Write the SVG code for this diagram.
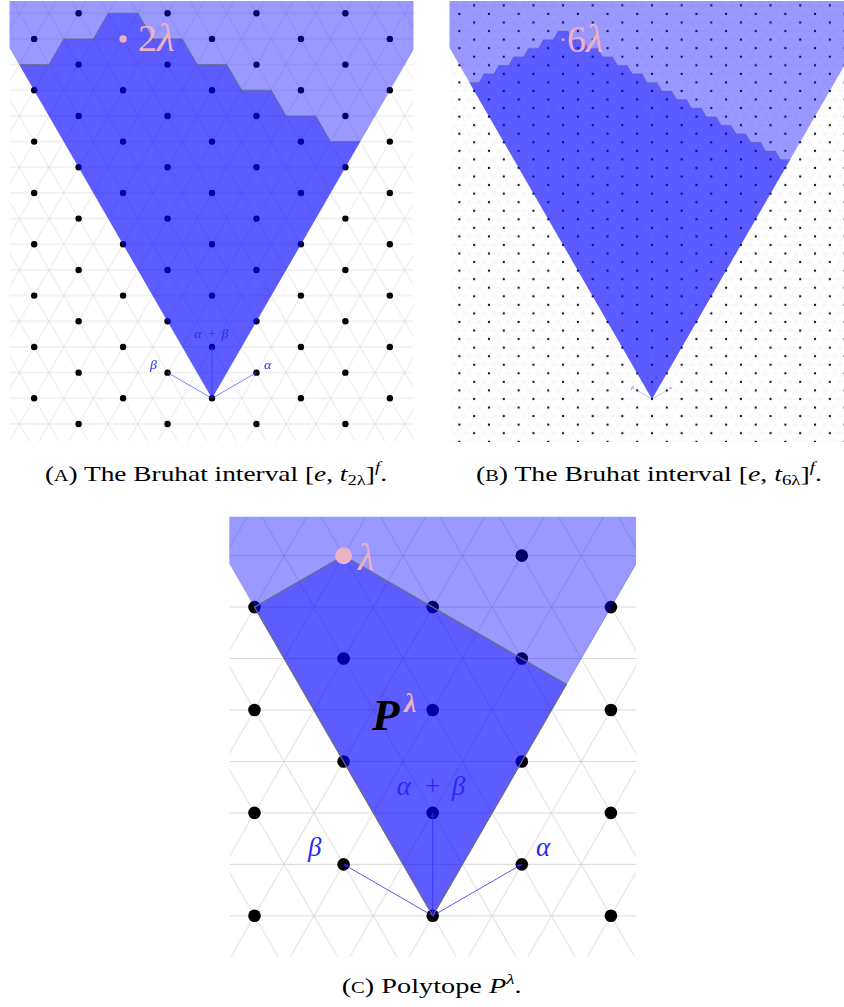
<svg xmlns="http://www.w3.org/2000/svg" width="844" height="1007" viewBox="0 0 844 1007">
<style>
text{font-family:"Liberation Serif","DejaVu Serif",serif;}
.it{font-style:italic;}
.cap{font-size:22px;fill:#000;}
.pink{fill:#ebb1c4;}
.lam{font-size:38px;fill:#ebb1c4;}
.vec{fill:#2a2af0;}
.coneFill{fill:#0000ff;fill-opacity:0.4;}
.polyFill{fill:#0000ff;fill-opacity:0.4;}
.da{fill:#000;}
.arr{stroke:#3030f0;fill:none;}
.edge{fill:none;stroke:#6e6e80;stroke-linejoin:round;}
</style>
<defs>
<clipPath id="clipA"><rect x="9.5" y="1" width="404" height="440.5"/></clipPath>
<clipPath id="clipB"><rect x="449.5" y="1" width="405" height="441"/></clipPath>
<clipPath id="clipC"><rect x="229.3" y="516.7" width="406.8" height="440"/></clipPath>
<pattern id="gridA" patternUnits="userSpaceOnUse" x="212" y="398.3" width="29.64" height="51.34">
<path d="M-30,0H60M-30,25.67H60M-30,51.34H60M-44.46,-25.67L14.82,77.01M-14.82,-25.67L44.46,77.01M14.82,-25.67L74.1,77.01M14.82,-25.67L-44.46,77.01M44.46,-25.67L-14.82,77.01M74.1,-25.67L14.82,77.01" stroke="#d6d6d6" stroke-width="0.6" fill="none"/>
</pattern>
<pattern id="gridB" patternUnits="userSpaceOnUse" x="652" y="399" width="9.88" height="17.112">
<path d="M-10,0H20M-10,8.556H20M-10,17.112H20M-14.82,-8.556L4.94,25.668M-4.94,-8.556L14.82,25.668M4.94,-8.556L24.7,25.668M4.94,-8.556L-14.82,25.668M14.82,-8.556L-4.94,25.668M24.7,-8.556L4.94,25.668" stroke="#e6e6e6" stroke-width="0.3" fill="none"/>
</pattern>
<pattern id="dotsB" patternUnits="userSpaceOnUse" x="652" y="399" width="29.64" height="17.112">
<circle cx="0" cy="0" r="1.1"/><circle cx="29.64" cy="0" r="1.1"/><circle cx="0" cy="17.112" r="1.1"/><circle cx="29.64" cy="17.112" r="1.1"/><circle cx="14.82" cy="8.556" r="1.1"/>
</pattern>
<pattern id="gridC" patternUnits="userSpaceOnUse" x="432.7" y="915.8" width="59.41" height="102.9">
<path d="M-60,0H120M-60,51.45H120M-60,102.9H120M-89.115,-51.45L29.705,154.35M-29.705,-51.45L89.115,154.35M29.705,-51.45L148.525,154.35M29.705,-51.45L-89.115,154.35M89.115,-51.45L-29.705,154.35M148.525,-51.45L29.705,154.35" stroke="#cfcfcf" stroke-width="0.8" fill="none"/>
</pattern>
<marker id="ah" viewBox="0 0 10 10" refX="9" refY="5" markerWidth="6" markerHeight="6" orient="auto" markerUnits="strokeWidth">
<path d="M0,1 L10,5 L0,9 z" fill="#2020f0"/>
</marker>
</defs>
<rect width="844" height="1007" fill="#fff"/>

<!-- Panel A -->
<g id="panel-a">
<g clip-path="url(#clipA)">
<rect x="9.5" y="1" width="404" height="440.5" fill="url(#gridA)"/>
<g id="dots-a" class="da">
<circle cx="78.62" cy="423.97" r="3.2"/><circle cx="167.54" cy="423.97" r="3.2"/><circle cx="256.46" cy="423.97" r="3.2"/><circle cx="345.38" cy="423.97" r="3.2"/>
<circle cx="34.16" cy="398.3" r="3.2"/><circle cx="123.08" cy="398.3" r="3.2"/><circle cx="212" cy="398.3" r="3.2"/><circle cx="300.92" cy="398.3" r="3.2"/><circle cx="389.84" cy="398.3" r="3.2"/>
<circle cx="78.62" cy="372.63" r="3.2"/><circle cx="167.54" cy="372.63" r="3.2"/><circle cx="256.46" cy="372.63" r="3.2"/><circle cx="345.38" cy="372.63" r="3.2"/>
<circle cx="34.16" cy="346.96" r="3.2"/><circle cx="123.08" cy="346.96" r="3.2"/><circle cx="212" cy="346.96" r="3.2"/><circle cx="300.92" cy="346.96" r="3.2"/><circle cx="389.84" cy="346.96" r="3.2"/>
<circle cx="78.62" cy="321.29" r="3.2"/><circle cx="167.54" cy="321.29" r="3.2"/><circle cx="256.46" cy="321.29" r="3.2"/><circle cx="345.38" cy="321.29" r="3.2"/>
<circle cx="34.16" cy="295.62" r="3.2"/><circle cx="123.08" cy="295.62" r="3.2"/><circle cx="212" cy="295.62" r="3.2"/><circle cx="300.92" cy="295.62" r="3.2"/><circle cx="389.84" cy="295.62" r="3.2"/>
<circle cx="78.62" cy="269.95" r="3.2"/><circle cx="167.54" cy="269.95" r="3.2"/><circle cx="256.46" cy="269.95" r="3.2"/><circle cx="345.38" cy="269.95" r="3.2"/>
<circle cx="34.16" cy="244.28" r="3.2"/><circle cx="123.08" cy="244.28" r="3.2"/><circle cx="212" cy="244.28" r="3.2"/><circle cx="300.92" cy="244.28" r="3.2"/><circle cx="389.84" cy="244.28" r="3.2"/>
<circle cx="78.62" cy="218.61" r="3.2"/><circle cx="167.54" cy="218.61" r="3.2"/><circle cx="256.46" cy="218.61" r="3.2"/><circle cx="345.38" cy="218.61" r="3.2"/>
<circle cx="34.16" cy="192.94" r="3.2"/><circle cx="123.08" cy="192.94" r="3.2"/><circle cx="212" cy="192.94" r="3.2"/><circle cx="300.92" cy="192.94" r="3.2"/><circle cx="389.84" cy="192.94" r="3.2"/>
<circle cx="78.62" cy="167.27" r="3.2"/><circle cx="167.54" cy="167.27" r="3.2"/><circle cx="256.46" cy="167.27" r="3.2"/><circle cx="345.38" cy="167.27" r="3.2"/>
<circle cx="34.16" cy="141.6" r="3.2"/><circle cx="123.08" cy="141.6" r="3.2"/><circle cx="212" cy="141.6" r="3.2"/><circle cx="300.92" cy="141.6" r="3.2"/><circle cx="389.84" cy="141.6" r="3.2"/>
<circle cx="78.62" cy="115.93" r="3.2"/><circle cx="167.54" cy="115.93" r="3.2"/><circle cx="256.46" cy="115.93" r="3.2"/><circle cx="345.38" cy="115.93" r="3.2"/>
<circle cx="34.16" cy="90.26" r="3.2"/><circle cx="123.08" cy="90.26" r="3.2"/><circle cx="212" cy="90.26" r="3.2"/><circle cx="300.92" cy="90.26" r="3.2"/><circle cx="389.84" cy="90.26" r="3.2"/>
<circle cx="78.62" cy="64.59" r="3.2"/><circle cx="167.54" cy="64.59" r="3.2"/><circle cx="256.46" cy="64.59" r="3.2"/><circle cx="345.38" cy="64.59" r="3.2"/>
<circle cx="34.16" cy="38.92" r="3.2"/><circle cx="212" cy="38.92" r="3.2"/><circle cx="300.92" cy="38.92" r="3.2"/><circle cx="389.84" cy="38.92" r="3.2"/>
<circle cx="78.62" cy="13.25" r="3.2"/><circle cx="167.54" cy="13.25" r="3.2"/><circle cx="256.46" cy="13.25" r="3.2"/><circle cx="345.38" cy="13.25" r="3.2"/>
</g>
<polygon id="cone-a" class="coneFill" points="212,398.3 -18,0 442,0"/>
<polygon id="interval-a" class="polyFill" points="212,398.3 19.34,64.59 48.98,64.59 63.8,38.92 93.44,38.92 108.26,13.25 137.9,13.25 152.72,38.92 182.36,38.92 197.18,64.59 226.82,64.59 241.64,90.26 271.28,90.26 286.1,115.93 315.74,115.93 330.56,141.6 360.2,141.6"/>
<polyline class="edge" stroke-width="0.8" points="19.34,64.59 48.98,64.59 63.8,38.92 93.44,38.92 108.26,13.25 137.9,13.25 152.72,38.92 182.36,38.92 197.18,64.59 226.82,64.59 241.64,90.26 271.28,90.26 286.1,115.93 315.74,115.93 330.56,141.6 360.2,141.6"/>
</g>
<g id="connectors-a" class="arr" stroke-width="0.6" marker-end="url(#ah)">
<line x1="212" y1="398.3" x2="256.46" y2="372.63"/>
<line x1="212" y1="398.3" x2="167.54" y2="372.63"/>
<line x1="212" y1="398.3" x2="212" y2="346.96"/>
</g>
<g id="labels-a" class="vec" font-size="13.5">
<text x="194.3" y="338" class="it">α</text><text x="208.2" y="338">+</text><text x="221.5" y="338" class="it">β</text>
<text x="150" y="369" class="it">β</text>
<text x="264" y="369" class="it">α</text>
</g>
<g id="node-2lambda">
<circle cx="123.08" cy="38.92" r="3.7" class="pink"/>
<text x="138" y="51" class="lam">2<tspan class="it" font-size="41">λ</tspan></text>
</g>
<text id="caption-a" x="216" y="481" text-anchor="middle" class="cap" textLength="342" lengthAdjust="spacingAndGlyphs">(<tspan font-size="16">A</tspan>) The Bruhat interval [<tspan class="it">e</tspan>, <tspan class="it">t</tspan><tspan font-size="15" dy="4">2λ</tspan><tspan dy="-4">]</tspan><tspan class="it" font-size="15" dy="-9">f</tspan><tspan dy="9">.</tspan></text>
</g>

<!-- Panel B -->
<g id="panel-b">
<g clip-path="url(#clipB)">
<rect x="449.5" y="1" width="405" height="441" fill="url(#gridB)"/>
<rect id="dots-b" x="449.5" y="1" width="405" height="441" fill="url(#dotsB)"/>
<polygon id="cone-b" class="coneFill" points="652,399 422,0 882,0"/>
<polygon id="interval-b" class="polyFill" points="652,399 469.22,82.43 479.1,82.43 484.04,73.87 493.92,73.87 498.86,65.32 508.74,65.32 513.68,56.76 523.56,56.76 528.5,48.2 538.38,48.2 543.32,39.65 553.2,39.65 558.14,31.09 568.02,31.09 572.96,39.65 582.84,39.65 587.78,48.2 597.66,48.2 602.6,56.76 612.48,56.76 617.42,65.32 627.3,65.32 632.24,73.87 642.12,73.87 647.06,82.43 656.94,82.43 661.88,90.98 671.76,90.98 676.7,99.54 686.58,99.54 691.52,108.1 701.4,108.1 706.34,116.65 716.22,116.65 721.16,125.21 731.04,125.21 735.98,133.76 745.86,133.76 750.8,142.32 760.68,142.32 765.62,150.88 775.5,150.88 780.44,159.43 790.32,159.43"/>
<polyline class="edge" stroke-width="0.3" points="469.22,82.43 479.1,82.43 484.04,73.87 493.92,73.87 498.86,65.32 508.74,65.32 513.68,56.76 523.56,56.76 528.5,48.2 538.38,48.2 543.32,39.65 553.2,39.65 558.14,31.09 568.02,31.09 572.96,39.65 582.84,39.65 587.78,48.2 597.66,48.2 602.6,56.76 612.48,56.76 617.42,65.32 627.3,65.32 632.24,73.87 642.12,73.87 647.06,82.43 656.94,82.43 661.88,90.98 671.76,90.98 676.7,99.54 686.58,99.54 691.52,108.1 701.4,108.1 706.34,116.65 716.22,116.65 721.16,125.21 731.04,125.21 735.98,133.76 745.86,133.76 750.8,142.32 760.68,142.32 765.62,150.88 775.5,150.88 780.44,159.43 790.32,159.43"/>
</g>
<g id="connectors-b" class="arr" stroke-width="0.3">
<line x1="652" y1="399" x2="666.82" y2="390.44"/>
<line x1="652" y1="399" x2="637.18" y2="390.44"/>
<line x1="652" y1="399" x2="652" y2="381.89"/>
</g>
<g id="labels-b" class="vec" font-size="4.5">
<text x="646" y="379" class="it">α</text><text x="650.7" y="379">+</text><text x="655.2" y="379" class="it">β</text>
<text x="631.3" y="389.2" class="it">β</text>
<text x="669.3" y="389.2" class="it">α</text>
</g>
<g id="node-6lambda">
<circle cx="563.08" cy="39.65" r="1.4" class="pink"/>
<text x="567" y="52" class="lam">6<tspan class="it" font-size="41">λ</tspan></text>
</g>
<text id="caption-b" x="649" y="481" text-anchor="middle" class="cap" textLength="346" lengthAdjust="spacingAndGlyphs">(<tspan font-size="16">B</tspan>) The Bruhat interval [<tspan class="it">e</tspan>, <tspan class="it">t</tspan><tspan font-size="15" dy="4">6λ</tspan><tspan dy="-4">]</tspan><tspan class="it" font-size="15" dy="-9">f</tspan><tspan dy="9">.</tspan></text>
</g>

<!-- Panel C -->
<g id="panel-c">
<g clip-path="url(#clipC)">
<rect x="229.3" y="516.7" width="406.8" height="440" fill="url(#gridC)"/>
<g id="dots-c" class="da">
<circle cx="254.48" cy="915.8" r="6.3"/><circle cx="432.7" cy="915.8" r="6.3"/><circle cx="610.92" cy="915.8" r="6.3"/>
<circle cx="343.59" cy="864.35" r="6.3"/><circle cx="521.81" cy="864.35" r="6.3"/>
<circle cx="254.48" cy="812.9" r="6.3"/><circle cx="432.7" cy="812.9" r="6.3"/><circle cx="610.92" cy="812.9" r="6.3"/>
<circle cx="343.59" cy="761.45" r="6.3"/><circle cx="521.81" cy="761.45" r="6.3"/>
<circle cx="254.48" cy="710" r="6.3"/><circle cx="432.7" cy="710" r="6.3"/><circle cx="610.92" cy="710" r="6.3"/>
<circle cx="343.59" cy="658.55" r="6.3"/><circle cx="521.81" cy="658.55" r="6.3"/>
<circle cx="254.48" cy="607.1" r="6.3"/><circle cx="432.7" cy="607.1" r="6.3"/><circle cx="610.92" cy="607.1" r="6.3"/>
<circle cx="521.81" cy="555.65" r="6.3"/>
</g>
<polygon id="cone-c" class="coneFill" points="432.7,915.8 202,516 664,516"/>
<polygon id="polytope-c" class="polyFill" points="432.7,915.8 254.48,607.1 343.59,555.65 566.37,684.3"/>
<polygon class="edge" stroke-width="1.2" points="432.7,915.8 254.48,607.1 343.59,555.65 566.37,684.3"/>
</g>
<g id="connectors-c" class="arr" stroke-width="0.8" marker-end="url(#ah)">
<line x1="432.7" y1="915.8" x2="521.81" y2="864.35"/>
<line x1="432.7" y1="915.8" x2="343.59" y2="864.35"/>
<line x1="432.7" y1="915.8" x2="432.7" y2="812.9"/>
</g>
<g id="labels-c" class="vec" font-size="27">
<text x="396.7" y="795" class="it">α</text><text x="425" y="795">+</text><text x="451.7" y="795" class="it">β</text>
<text x="308" y="856" class="it">β</text>
<text x="536" y="856" class="it">α</text>
</g>
<g id="node-lambda">
<circle cx="343.59" cy="555.65" r="8.5" class="pink"/>
<text x="358" y="570" class="lam it" font-size="41">λ</text>
</g>
<g id="label-P">
<text x="372" y="730" font-size="45" font-weight="bold" class="it" fill="#000">P</text>
<text x="404" y="712" font-size="28" font-weight="bold" class="it pink">λ</text>
</g>
<text id="caption-c" x="431.7" y="993" text-anchor="middle" class="cap" textLength="180" lengthAdjust="spacingAndGlyphs">(<tspan font-size="16">C</tspan>) Polytope <tspan class="it">P</tspan><tspan class="it" font-size="15" dy="-9">λ</tspan><tspan dy="9">.</tspan></text>
</g>
</svg>
